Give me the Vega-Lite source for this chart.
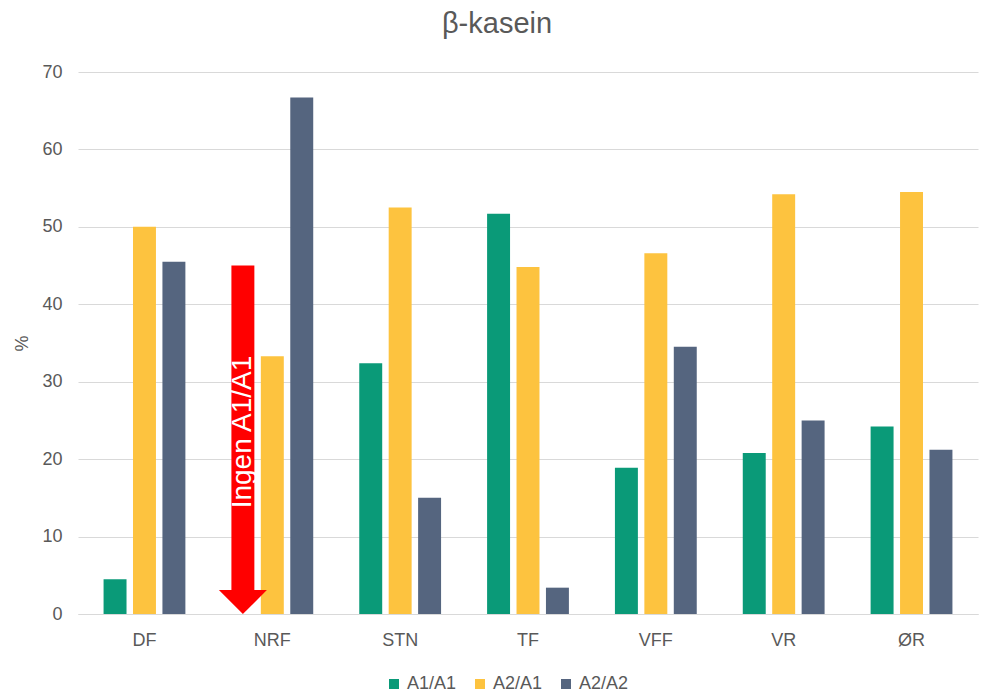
{
  "$schema": "https://vega.github.io/schema/vega-lite/v6.json",
  "width": 900,
  "height": 542,
  "autosize": "none",
  "padding": {"left": 78, "top": 72, "right": 3, "bottom": 80},
  "background": "white",
  "title": {"text": "β-kasein", "fontSize": 29, "font": "Liberation Sans", "fontWeight": "normal", "color": "#595959", "dx": -31, "offset": 24},
  "config": {
    "font": "Liberation Sans",
    "view": {"stroke": null},
    "axis": {"labelFont": "Liberation Sans", "titleFont": "Liberation Sans", "labelColor": "#595959", "titleColor": "#595959", "labelFontSize": 18, "titleFontSize": 18, "titleFontWeight": "normal", "ticks": false, "gridColor": "#d9d9d9", "domainColor": "#d9d9d9"},
    "legend": {"labelFont": "Liberation Sans", "labelColor": "#595959", "labelFontSize": 18}
  },
  "datasets": {
    "main": [
      {"gruppe": "DF", "type": "A1/A1", "pct": 4.5},
      {"gruppe": "DF", "type": "A2/A1", "pct": 50.0},
      {"gruppe": "DF", "type": "A2/A2", "pct": 45.5},
      {"gruppe": "NRF", "type": "A1/A1", "pct": 0},
      {"gruppe": "NRF", "type": "A2/A1", "pct": 33.3},
      {"gruppe": "NRF", "type": "A2/A2", "pct": 66.7},
      {"gruppe": "STN", "type": "A1/A1", "pct": 32.4},
      {"gruppe": "STN", "type": "A2/A1", "pct": 52.5},
      {"gruppe": "STN", "type": "A2/A2", "pct": 15.0},
      {"gruppe": "TF", "type": "A1/A1", "pct": 51.7},
      {"gruppe": "TF", "type": "A2/A1", "pct": 44.8},
      {"gruppe": "TF", "type": "A2/A2", "pct": 3.4},
      {"gruppe": "VFF", "type": "A1/A1", "pct": 18.9},
      {"gruppe": "VFF", "type": "A2/A1", "pct": 46.6},
      {"gruppe": "VFF", "type": "A2/A2", "pct": 34.5},
      {"gruppe": "VR", "type": "A1/A1", "pct": 20.8},
      {"gruppe": "VR", "type": "A2/A1", "pct": 54.2},
      {"gruppe": "VR", "type": "A2/A2", "pct": 25.0},
      {"gruppe": "ØR", "type": "A1/A1", "pct": 24.2},
      {"gruppe": "ØR", "type": "A2/A1", "pct": 54.5},
      {"gruppe": "ØR", "type": "A2/A2", "pct": 21.2}
    ],
    "note": [
      {"gruppe": "NRF", "type": "A1/A1", "start": 45, "end": 3.1, "head": 1.55, "textpos": 23.5, "label": "Ingen A1/A1"}
    ]
  },
  "encoding": {
    "x": {"field": "gruppe", "type": "nominal", "sort": ["DF", "NRF", "STN", "TF", "VFF", "VR", "ØR"], "title": null,
          "scale": {"paddingInner": 0.36, "paddingOuter": 0.2},
          "axis": {"labelAngle": 0, "labelPadding": 17, "domain": true, "grid": false}},
    "xOffset": {"field": "type", "type": "nominal", "sort": ["A1/A1", "A2/A1", "A2/A2"], "scale": {"paddingInner": 0.22}}
  },
  "layer": [
    {
      "data": {"name": "main"},
      "mark": {"type": "bar"},
      "encoding": {
        "y": {"field": "pct", "type": "quantitative", "title": "%",
              "scale": {"domain": [0, 70]},
              "axis": {"values": [0, 10, 20, 30, 40, 50, 60, 70], "domain": false, "grid": true, "labelPadding": 16, "titlePadding": 10}},
        "color": {"field": "type", "type": "nominal", "title": null,
                  "scale": {"domain": ["A1/A1", "A2/A1", "A2/A2"], "range": ["#0a9a78", "#fdc33f", "#55657f"]},
                  "legend": {"orient": "none", "legendX": 307, "legendY": 603, "direction": "horizontal", "symbolType": "square", "symbolSize": 100, "symbolOpacity": 1, "labelOffset": 4, "columnPadding": 14}}
      }
    },
    {
      "data": {"name": "note"},
      "mark": {"type": "bar", "color": "#ff0000", "xOffset": -3},
      "encoding": {
        "y": {"field": "start", "type": "quantitative"},
        "y2": {"field": "end"}
      }
    },
    {
      "data": {"name": "note"},
      "mark": {"type": "point", "shape": "M-2,-1L2,-1L0,1Z", "filled": true, "color": "#ff0000", "opacity": 1, "size": 576, "xOffset": -3},
      "encoding": {
        "y": {"field": "head", "type": "quantitative"}
      }
    },
    {
      "data": {"name": "note"},
      "mark": {"type": "text", "angle": 270, "color": "white", "fontSize": 28, "font": "Liberation Sans", "align": "center", "baseline": "middle", "xOffset": -2, "dy": 0},
      "encoding": {
        "y": {"field": "textpos", "type": "quantitative"},
        "text": {"field": "label"}
      }
    }
  ]
}
